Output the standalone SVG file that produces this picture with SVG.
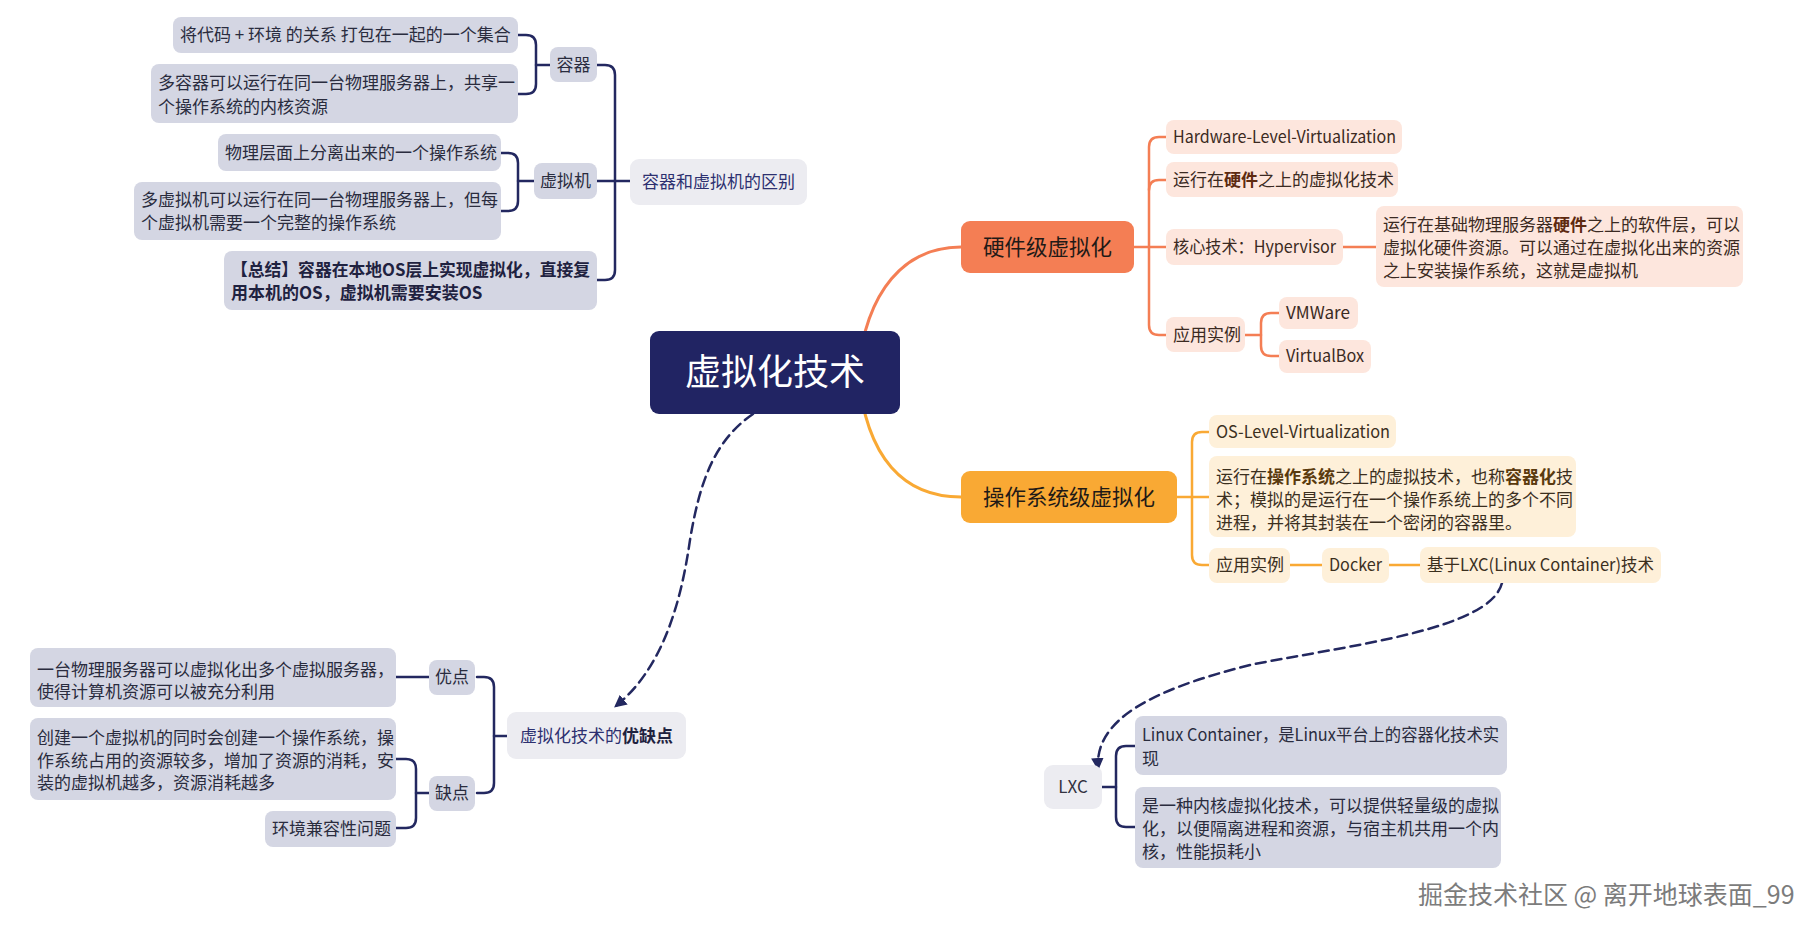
<svg xmlns="http://www.w3.org/2000/svg" width="1820" height="933" viewBox="0 0 1820 933">
<style>
text { font-family: "Noto Sans CJK SC", "Noto Sans", sans-serif; font-size: 17px; }
.b { font-weight: bold; }
.mid { text-anchor: middle; }
.root rect { fill: #212463; }
.root text { fill: #ffffff; font-size: 36px; }
.hw rect { fill: #f47e54; }
.os rect { fill: #f9a934; }
.l1 text { font-size: 21.5px; fill: #1f1a17; }
.hc rect { fill: #fde6dd; }
.hc text { fill: #3b2a22; }
.hc .b { fill: #5e2a10; }
.oc rect { fill: #fef0d9; }
.oc text { fill: #3b2f1e; }
.oc .b { fill: #5a3a0e; }
.gl rect { fill: #ececf1; }
.gl text { fill: #2d3070; }
.nc rect { fill: #d4d6e3; }
.nc text { fill: #2a2c3e; }
.nc .b { fill: #1f2240; }
.cn path { fill: none; stroke-linecap: round; stroke-linejoin: round; }
.navy { stroke: #232860; stroke-width: 2.5; }
.coral { stroke: #f47e54; stroke-width: 2.5; }
.amber { stroke: #f9a934; stroke-width: 2.5; }
.dash { stroke: #232860; stroke-width: 2.5; stroke-dasharray: 10 6; marker-end: url(#arr); }
.wm { font-size: 25px; fill: #7c7c7c; }
</style>
<defs>
<marker id="arr" viewBox="0 0 10 10" refX="8" refY="5" markerWidth="5" markerHeight="5" orient="auto" markerUnits="strokeWidth">
<path d="M0 0 L10 5 L0 10 Z" fill="#232860"/>
</marker>
</defs>
<rect x="0" y="0" width="1820" height="933" fill="#ffffff"/>

<g id="connectors" class="cn">
<path class="coral" d="M 858 372 C 866 290, 905 247, 961 247" style="stroke-width:3"/>
<path class="amber" d="M 858 372 C 866 460, 905 497, 961 497" style="stroke-width:3"/>
<path class="dash" d="M 753 414 C 715 440, 700 480, 690 540 C 680 610, 660 670, 616 706"/>
<path class="dash" d="M 1502 583 C 1490 630, 1350 645, 1250 665 C 1150 690, 1095 720, 1098 768"/>
<path class="navy" d="M 597 65 H 605 Q 615 65 615 75 V 270 Q 615 280 605 280 H 597"/>
<path class="navy" d="M 597 181 H 630"/>
<path class="navy" d="M 550 65 H 536"/>
<path class="navy" d="M 518 35 H 526 Q 536 35 536 45 V 84 Q 536 94 526 94 H 518"/>
<path class="navy" d="M 534 181 H 518"/>
<path class="navy" d="M 501 153 H 508 Q 518 153 518 163 V 201 Q 518 211 508 211 H 501"/>
<path class="coral" d="M 1134 247 H 1166"/>
<path class="coral" d="M 1166 137 H 1159 Q 1149 137 1149 147 V 325 Q 1149 335 1159 335 H 1166"/>
<path class="coral" d="M 1149 190 Q 1149 180 1159 180 H 1166"/>
<path class="coral" d="M 1343 247 H 1376"/>
<path class="coral" d="M 1245 335 H 1261"/>
<path class="coral" d="M 1279 313 H 1271 Q 1261 313 1261 323 V 346 Q 1261 356 1271 356 H 1279"/>
<path class="amber" d="M 1177 497 H 1209"/>
<path class="amber" d="M 1209 432 H 1202 Q 1192 432 1192 442 V 555 Q 1192 565 1202 565 H 1209"/>
<path class="amber" d="M 1290 565 H 1322"/>
<path class="amber" d="M 1389 565 H 1420"/>
<path class="navy" d="M 1102 787 H 1116"/>
<path class="navy" d="M 1135 746 H 1126 Q 1116 746 1116 756 V 817 Q 1116 827 1126 827 H 1135"/>
<path class="navy" d="M 507 736 H 494"/>
<path class="navy" d="M 477 677 H 484 Q 494 677 494 687 V 783 Q 494 793 484 793 H 477"/>
<path class="navy" d="M 429 677 H 396"/>
<path class="navy" d="M 429 793 H 416"/>
<path class="navy" d="M 396 759 H 406 Q 416 759 416 769 V 818 Q 416 828 406 828 H 396"/>
</g>

<g id="n-root" class="root">
<rect x="650" y="331" width="250" height="83" rx="9"/>
<text x="775" y="385" class="mid">虚拟化技术</text>
</g>

<g id="n-hw" class="hw l1">
<rect x="961" y="221" width="173" height="52" rx="9"/>
<text x="1047.5" y="255" class="mid">硬件级虚拟化</text>
</g>
<g id="n-os" class="os l1">
<rect x="961" y="471" width="216" height="52" rx="9"/>
<text x="1069" y="505" class="mid">操作系统级虚拟化</text>
</g>

<g id="n-hw-1" class="hc"><rect x="1166" y="120" width="236" height="34" rx="8"/><text x="1173" y="143" textLength="223" lengthAdjust="spacingAndGlyphs">Hardware-Level-Virtualization</text></g>
<g id="n-hw-2" class="hc"><rect x="1166" y="162" width="232" height="35" rx="8"/><text x="1173" y="186">运行在<tspan class="b">硬件</tspan>之上的虚拟化技术</text></g>
<g id="n-hw-3" class="hc"><rect x="1166" y="229" width="177" height="36" rx="8"/><text x="1173" y="253" textLength="163" lengthAdjust="spacingAndGlyphs">核心技术：Hypervisor</text></g>
<g id="n-hw-3a" class="hc"><rect x="1376" y="206" width="367" height="81" rx="8"/><text x="1383" y="231">运行在基础物理服务器<tspan class="b">硬件</tspan>之上的软件层，可以</text><text x="1383" y="254">虚拟化硬件资源。可以通过在虚拟化出来的资源</text><text x="1383" y="277">之上安装操作系统，这就是虚拟机</text></g>
<g id="n-hw-4" class="hc"><rect x="1166" y="317" width="79" height="35" rx="8"/><text x="1173" y="341">应用实例</text></g>
<g id="n-hw-4a" class="hc"><rect x="1279" y="297" width="79" height="32" rx="8"/><text x="1286" y="319" textLength="64" lengthAdjust="spacingAndGlyphs">VMWare</text></g>
<g id="n-hw-4b" class="hc"><rect x="1279" y="340" width="92" height="33" rx="8"/><text x="1286" y="362" textLength="78" lengthAdjust="spacingAndGlyphs">VirtualBox</text></g>

<g id="n-os-1" class="oc"><rect x="1209" y="415" width="187" height="33" rx="8"/><text x="1216" y="438" textLength="174" lengthAdjust="spacingAndGlyphs">OS-Level-Virtualization</text></g>
<g id="n-os-2" class="oc"><rect x="1209" y="456" width="367" height="81" rx="8"/><text x="1216" y="483">运行在<tspan class="b">操作系统</tspan>之上的虚拟技术，也称<tspan class="b">容器化</tspan>技</text><text x="1216" y="506">术；模拟的是运行在一个操作系统上的多个不同</text><text x="1216" y="529">进程，并将其封装在一个密闭的容器里。</text></g>
<g id="n-os-3" class="oc"><rect x="1209" y="548" width="81" height="35" rx="8"/><text x="1216" y="571">应用实例</text></g>
<g id="n-os-3a" class="oc"><rect x="1322" y="548" width="67" height="35" rx="8"/><text x="1329" y="571" textLength="53" lengthAdjust="spacingAndGlyphs">Docker</text></g>
<g id="n-os-3b" class="oc"><rect x="1420" y="547" width="241" height="36" rx="8"/><text x="1427" y="571" textLength="227" lengthAdjust="spacingAndGlyphs">基于LXC(Linux Container)技术</text></g>

<g id="n-diff" class="gl"><rect x="630" y="159" width="177" height="46" rx="9"/><text x="718.5" y="188" class="mid">容器和虚拟机的区别</text></g>
<g id="n-rq" class="nc"><rect x="550" y="47" width="47" height="35" rx="8"/><text x="573.5" y="71" class="mid">容器</text></g>
<g id="n-vm" class="nc"><rect x="534" y="163" width="63" height="36" rx="8"/><text x="565.5" y="187" class="mid">虚拟机</text></g>
<g id="n-sum" class="nc"><rect x="224" y="251" width="373" height="59" rx="8"/><text x="231" y="276" class="b" textLength="359" lengthAdjust="spacingAndGlyphs">【总结】容器在本地OS层上实现虚拟化，直接复</text><text x="231" y="299" class="b">用本机的OS，虚拟机需要安装OS</text></g>
<g id="n-rq-1" class="nc"><rect x="173" y="17" width="345" height="36" rx="8"/><text x="180" y="41">将代码 + 环境 的关系 打包在一起的一个集合</text></g>
<g id="n-rq-2" class="nc"><rect x="151" y="64" width="367" height="59" rx="8"/><text x="158" y="89">多容器可以运行在同一台物理服务器上，共享一</text><text x="158" y="113">个操作系统的内核资源</text></g>
<g id="n-vm-1" class="nc"><rect x="218" y="134" width="283" height="37" rx="8"/><text x="225" y="159">物理层面上分离出来的一个操作系统</text></g>
<g id="n-vm-2" class="nc"><rect x="134" y="182" width="367" height="58" rx="8"/><text x="141" y="206">多虚拟机可以运行在同一台物理服务器上，但每</text><text x="141" y="229">个虚拟机需要一个完整的操作系统</text></g>

<g id="n-lxc" class="gl"><rect x="1044" y="765" width="58" height="44" rx="9"/><text x="1073" y="793" class="mid" style="fill:#333340">LXC</text></g>
<g id="n-lxc-1" class="nc"><rect x="1135" y="716" width="372" height="59" rx="8"/><text x="1142" y="741" textLength="357" lengthAdjust="spacingAndGlyphs">Linux Container，是Linux平台上的容器化技术实</text><text x="1142" y="765">现</text></g>
<g id="n-lxc-2" class="nc"><rect x="1135" y="787" width="366" height="81" rx="8"/><text x="1142" y="812">是一种内核虚拟化技术，可以提供轻量级的虚拟</text><text x="1142" y="835">化，以便隔离进程和资源，与宿主机共用一个内</text><text x="1142" y="858">核，性能损耗小</text></g>

<g id="n-pc" class="gl"><rect x="507" y="712" width="179" height="47" rx="9"/><text x="596.5" y="742" class="mid">虚拟化技术的<tspan class="b" style="fill:#1f2240">优缺点</tspan></text></g>
<g id="n-pro" class="nc"><rect x="429" y="660" width="46" height="35" rx="8"/><text x="452" y="683" class="mid">优点</text></g>
<g id="n-con" class="nc"><rect x="429" y="776" width="46" height="35" rx="8"/><text x="452" y="799" class="mid">缺点</text></g>
<g id="n-pro-1" class="nc"><rect x="30" y="648" width="366" height="59" rx="8"/><text x="37" y="676">一台物理服务器可以虚拟化出多个虚拟服务器，</text><text x="37" y="698">使得计算机资源可以被充分利用</text></g>
<g id="n-con-1" class="nc"><rect x="30" y="718" width="366" height="82" rx="8"/><text x="37" y="744">创建一个虚拟机的同时会创建一个操作系统，操</text><text x="37" y="767">作系统占用的资源较多，增加了资源的消耗，安</text><text x="37" y="789">装的虚拟机越多，资源消耗越多</text></g>
<g id="n-con-2" class="nc"><rect x="265" y="811" width="131" height="36" rx="8"/><text x="272" y="835">环境兼容性问题</text></g>

<text class="wm" x="1418" y="904">掘金技术社区 @ 离开地球表面_99</text>
</svg>
